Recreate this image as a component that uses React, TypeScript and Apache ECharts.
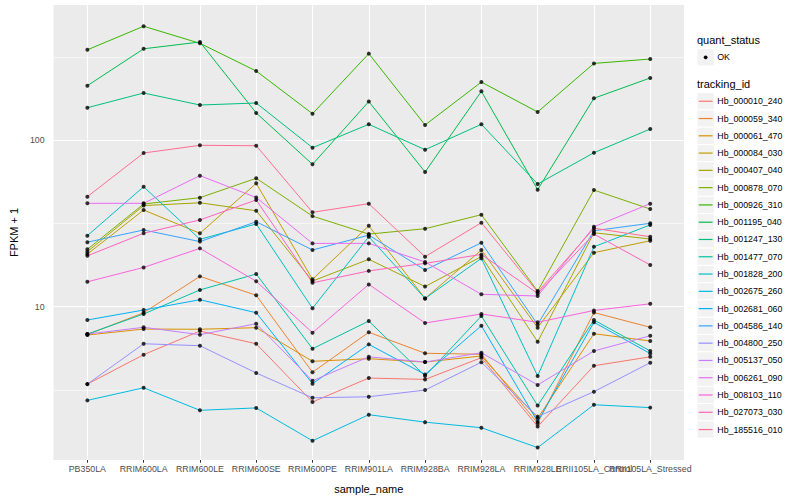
import React, { useEffect, useRef } from "react";
import * as echarts from "echarts";

const sampleNames = [
  "PB350LA", "RRIM600LA", "RRIM600LE", "RRIM600SE", "RRIM600PE", "RRIM901LA",
  "RRIM928BA", "RRIM928LA", "RRIM928LE", "RRII105LA_Control", "RRII105LA_Stressed",
];

const trackingIds = [
  "Hb_000010_240", "Hb_000059_340", "Hb_000061_470", "Hb_000084_030", "Hb_000407_040",
  "Hb_000878_070", "Hb_000926_310", "Hb_001195_040", "Hb_001247_130", "Hb_001477_070",
  "Hb_001828_200", "Hb_002675_260", "Hb_002681_060", "Hb_004586_140", "Hb_004800_250",
  "Hb_005137_050", "Hb_006261_090", "Hb_008103_110", "Hb_027073_030", "Hb_185516_010",
];

const lineColors = [
  "#F8766D", "#EA8331", "#D89000", "#C09B00", "#A3A500", "#7CAE00", "#39B600", "#00BB4E",
  "#00BF7D", "#00C1A3", "#00BFC4", "#00BAE0", "#00B0F6", "#35A2FF", "#9590FF", "#C77CFF",
  "#E76BF3", "#FA62DB", "#FF62BC", "#FF6C91",
];

// FPKM + 1 values, one array per tracking_id, in sampleNames order
const Hb_000010_240 = [3.42, 5.14, 7.13, 5.98, 2.67, 3.72, 3.65, 4.93, 1.9, 4.41, 4.99];
const Hb_000059_340 = [6.79, 9.19, 15.2, 11.7, 4.03, 7.01, 5.24, 5.17, 1.99, 9.21, 7.51];
const Hb_000061_470 = [6.75, 7.33, 7.31, 7.47, 4.69, 4.86, 4.64, 5.05, 2.13, 6.87, 6.21];
const Hb_000084_030 = [20.7, 38.1, 27.6, 55.1, 14.6, 30.6, 11.2, 21.9, 7.47, 21.1, 24.9];
const Hb_000407_040 = [21.4, 40.5, 42.1, 37.7, 14.25, 19.25, 13.2, 20.0, 6.15, 27.8, 25.5];
const Hb_000878_070 = [22.1, 41.4, 45.2, 59.1, 35.0, 27.3, 29.4, 35.7, 12.4, 50.2, 38.6];
const Hb_000926_310 = [350, 485, 383, 261, 144.5, 332, 123.6, 224, 148, 290, 308];
const Hb_001195_040 = [213, 355, 390, 146, 71.7, 171, 64.5, 197, 50.5, 179, 237];
const Hb_001247_130 = [157, 192.5, 163, 167.6, 90.3, 124.8, 87.8, 124.8, 54.6, 84.2, 116.9];
const Hb_001477_070 = [6.84, 9.03, 12.6, 15.7, 5.58, 8.19, 3.83, 8.78, 2.54, 8.31, 5.41];
const Hb_001828_200 = [26.7, 52.6, 25.4, 31.4, 9.77, 26.3, 11.2, 19.5, 3.83, 22.9, 31.0];
const Hb_002675_260 = [2.73, 3.25, 2.38, 2.46, 1.56, 2.24, 2.02, 1.87, 1.42, 2.57, 2.47];
const Hb_002681_060 = [8.31, 9.54, 11.0, 9.19, 3.44, 5.93, 3.91, 7.68, 2.03, 8.05, 5.22];
const Hb_004586_140 = [24.4, 28.9, 24.6, 32.4, 21.9, 26.9, 16.6, 24.2, 7.81, 28.6, 31.7];
const Hb_004800_250 = [3.42, 5.98, 5.82, 3.99, 2.83, 2.87, 3.15, 4.63, 2.18, 3.08, 4.6];
const Hb_005137_050 = [6.84, 7.51, 6.78, 7.89, 3.58, 4.99, 4.64, 5.28, 3.38, 5.41, 6.68];
const Hb_006261_090 = [41.8, 41.8, 61.3, 45.3, 24.0, 24.0, 18.55, 11.86, 11.58, 30.2, 41.6];
const Hb_008103_110 = [14.1, 17.2, 22.4, 14.2, 6.97, 13.6, 7.97, 9.03, 8.05, 9.48, 10.4];
const Hb_027073_030 = [20.2, 27.6, 33.2, 43.8, 13.9, 16.4, 18.2, 20.6, 12.0, 27.3, 17.8];
const Hb_185516_010 = [45.8, 83.9, 93.3, 92.8, 36.9, 41.6, 19.96, 31.95, 12.24, 29.6, 26.3];

const seriesValues = [
  Hb_000010_240, Hb_000059_340, Hb_000061_470, Hb_000084_030, Hb_000407_040,
  Hb_000878_070, Hb_000926_310, Hb_001195_040, Hb_001247_130, Hb_001477_070,
  Hb_001828_200, Hb_002675_260, Hb_002681_060, Hb_004586_140, Hb_004800_250,
  Hb_005137_050, Hb_006261_090, Hb_008103_110, Hb_027073_030, Hb_185516_010,
];

const yTickValues = [10, 100];
const yMinorGrid = [3.1623, 31.623, 316.23];
const statusLevels = ["OK"];

export default function App() {
  const ref = useRef<HTMLDivElement>(null);

  useEffect(() => {
    if (!ref.current) return;
    const chart = echarts.init(ref.current, null, { renderer: "svg" });
    const font = "'Liberation Sans', Arial, Helvetica, sans-serif";

    const gridLeft = 40;
    const gridTop = 5;
    const gridRight = 684;
    const gridBottom = 460;

    const lineSeries = seriesValues.map((vals, i) => ({
      name: trackingIds[i],
      type: "line",
      xAxisIndex: 0,
      yAxisIndex: 0,
      data: vals.map((v, j) => [j, v]),
      showSymbol: false,
      symbol: "none",
      silent: true,
      z: 2,
      lineStyle: { color: lineColors[i], width: 1 },
      itemStyle: { color: lineColors[i] },
    }));

    const pointData = seriesValues.flatMap((vals) => vals.map((v, j) => [j, v]));

    const wl = (w: number) => ({ color: "#FFFFFF", width: w, type: "solid" as const });
    const gridLines = [
      ...yMinorGrid.map((v) => ({ yAxis: v, lineStyle: wl(0.55) })),
      ...yTickValues.map((v) => ({ yAxis: v, lineStyle: wl(1.1) })),
      ...sampleNames.map((_, j) => ({ xAxis: j, lineStyle: wl(1.1) })),
    ];

    const keySize = 17.28;
    const keyX = 697;
    const statusKeyTop = 48.7;
    const idKeyTop = 92.6;

    const legendGraphics: any[] = [
      {
        type: "text",
        x: keyX,
        y: 40,
        style: { text: "quant_status", font: `11px ${font}`, fill: "#000000", align: "left", verticalAlign: "middle" },
      },
      ...statusLevels.flatMap((s, i) => [
        {
          type: "rect",
          shape: { x: keyX, y: statusKeyTop + i * keySize, width: keySize, height: keySize },
          style: { fill: "#F2F2F2", stroke: "#FFFFFF", lineWidth: 1 },
        },
        {
          type: "circle",
          shape: { cx: keyX + keySize / 2, cy: statusKeyTop + i * keySize + keySize / 2, r: 1.9 },
          style: { fill: "#000000" },
        },
        {
          type: "text",
          x: keyX + keySize + 3,
          y: statusKeyTop + i * keySize + keySize / 2,
          style: { text: s, font: `8.8px ${font}`, fill: "#000000", align: "left", verticalAlign: "middle" },
        },
      ]),
      {
        type: "text",
        x: keyX,
        y: 84.3,
        style: { text: "tracking_id", font: `11px ${font}`, fill: "#000000", align: "left", verticalAlign: "middle" },
      },
      ...trackingIds.flatMap((id, i) => {
        const top = idKeyTop + i * keySize;
        const cy = top + keySize / 2;
        return [
          {
            type: "rect",
            shape: { x: keyX, y: top, width: keySize, height: keySize },
            style: { fill: "#F2F2F2", stroke: "#FFFFFF", lineWidth: 1 },
          },
          {
            type: "line",
            shape: { x1: keyX + 1.7, y1: cy, x2: keyX + keySize - 1.7, y2: cy },
            style: { stroke: lineColors[i], lineWidth: 1.2 },
          },
          {
            type: "text",
            x: keyX + keySize + 3,
            y: cy,
            style: { text: id, font: `8.8px ${font}`, fill: "#000000", align: "left", verticalAlign: "middle" },
          },
        ];
      }),
    ];

    // Labels split over two overlaid axes (even / odd positions) so that
    // neighbouring long labels may overlap, as in the reference, without being hidden.
    const evenIdx = sampleNames.map((_, j) => j).filter((j) => j % 2 === 0);
    const oddIdx = sampleNames.map((_, j) => j).filter((j) => j % 2 === 1);

    const xAxisBase = (vals: number[]) => ({
      type: "value",
      gridIndex: 0,
      position: "bottom",
      offset: 0,
      min: -0.6,
      max: 10.6,
      axisLine: { show: false },
      splitLine: { show: false },
      axisTick: {
        show: true,
        length: 2.75,
        lineStyle: { color: "#333333", width: 1 },
        customValues: vals,
      },
      axisLabel: {
        show: true,
        margin: 4,
        fontSize: 8.8,
        color: "#4D4D4D",
        fontFamily: font,
        customValues: vals,
        formatter: (v: number) => sampleNames[Math.round(v)] ?? "",
        hideOverlap: false,
        showMinLabel: true,
        showMaxLabel: true,
      },
    });

    chart.setOption({
      animation: false,
      backgroundColor: "#FFFFFF",
      textStyle: { fontFamily: font },
      grid: {
        left: gridLeft,
        top: gridTop,
        width: gridRight - gridLeft,
        height: gridBottom - gridTop,
        show: true,
        backgroundColor: "#EBEBEB",
        borderWidth: 0,
        containLabel: false,
      },
      xAxis: [
        {
          ...xAxisBase(evenIdx),
          name: "sample_name",
          nameLocation: "middle",
          nameGap: 23,
          nameTextStyle: { fontSize: 11, color: "#000000", fontFamily: font },
        },
        xAxisBase(oddIdx),
      ],
      yAxis: {
        type: "log",
        logBase: 10,
        min: 1.196,
        max: 651,
        axisLine: { show: false },
        splitLine: { show: false },
        minorSplitLine: { show: false },
        axisTick: {
          show: true,
          length: 2.75,
          lineStyle: { color: "#333333", width: 1 },
          customValues: yTickValues,
        },
        axisLabel: {
          show: true,
          margin: 9,
          fontSize: 8.8,
          color: "#4D4D4D",
          fontFamily: font,
          customValues: yTickValues,
          formatter: (v: number) => String(Math.round(v)),
        },
        name: "FPKM + 1",
        nameLocation: "middle",
        nameRotate: 90,
        nameGap: 23,
        nameTextStyle: { fontSize: 11, color: "#000000", fontFamily: font },
      },
      series: [
        ...lineSeries,
        {
          name: "points",
          type: "scatter",
          xAxisIndex: 0,
          yAxisIndex: 0,
          data: pointData,
          symbol: "circle",
          symbolSize: 4,
          silent: true,
          z: 3,
          itemStyle: { color: "#000000" },
          markLine: {
            silent: true,
            z: 1,
            symbol: ["none", "none"],
            label: { show: false },
            emphasis: { disabled: true },
            data: gridLines,
          },
        },
      ],
      graphic: legendGraphics,
    });

    return () => {
      chart.dispose();
    };
  }, []);

  return (
    <div
      ref={ref}
      style={{ position: "fixed", left: 0, top: 0, width: 800, height: 500, background: "#FFFFFF" }}
    />
  );
}
